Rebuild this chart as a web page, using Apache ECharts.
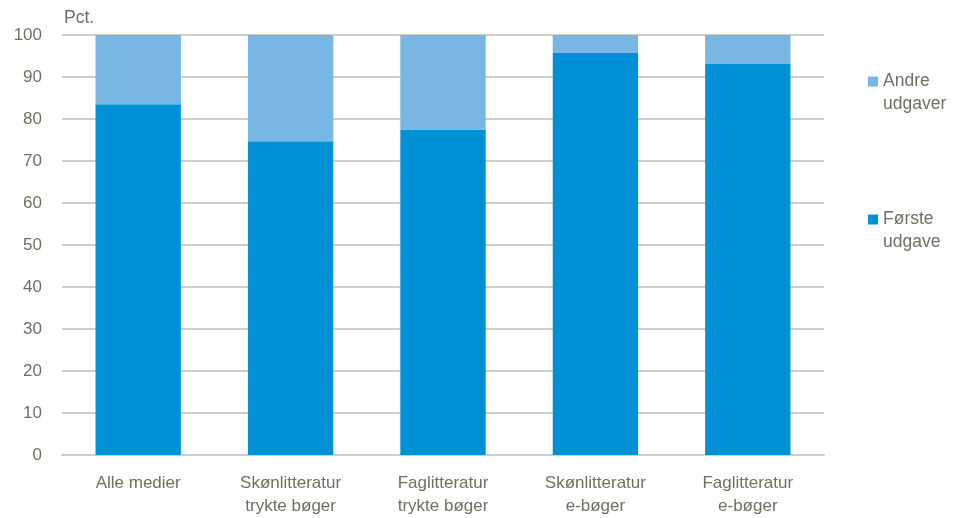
<!DOCTYPE html>
<html>
<head>
<meta charset="utf-8">
<script src="https://cdn.jsdelivr.net/npm/echarts@6/dist/echarts.min.js"></script>
<style>
html,body{margin:0;padding:0;background:#fff;}
#c{width:953px;height:518px;}
</style>
</head>
<body>
<div id="c"></div>
<script>
const categories = ['Alle medier', 'Skønlitteratur\ntrykte bøger', 'Faglitteratur\ntrykte bøger', 'Skønlitteratur\ne-bøger', 'Faglitteratur\ne-bøger'];
const foersteUdgave = [83.5, 74.7, 77.5, 95.7, 93.1];
const andreUdgaver = [16.5, 25.3, 22.5, 4.3, 6.9];
const seriesNames = ['Første\nudgave', 'Andre\nudgaver'];
const yTicks = { min: 0, max: 100, interval: 10 };

const textColor = '#706f62';
const gridColor = '#cfcdc7';
const font = 'Liberation Sans, Arial, sans-serif';

const chart = echarts.init(document.getElementById('c'), null, { renderer: 'canvas' });
const legendText = { color: textColor, fontSize: 17.5, fontFamily: font, lineHeight: 23 };
const legendCommon = {
  orient: 'vertical', left: 863, itemWidth: 10, itemHeight: 10, icon: 'rect',
  textStyle: legendText, selectedMode: false,
  formatter: function (name) { return '\n' + name; }
};
chart.setOption({
  animation: false,
  textStyle: { fontFamily: font },
  grid: { left: 62, right: 129, top: 35, bottom: 61, containLabel: false },
  legend: [
    Object.assign({ data: [seriesNames[1]], top: 42 }, legendCommon),
    Object.assign({ data: [seriesNames[0]], top: 180 }, legendCommon)
  ],
  xAxis: {
    type: 'category',
    data: categories,
    axisLine: { show: true, lineStyle: { color: gridColor, width: 2 } },
    axisTick: { show: false },
    axisLabel: { color: textColor, fontSize: 17, lineHeight: 23, margin: 17, fontFamily: font }
  },
  yAxis: {
    type: 'value',
    min: yTicks.min, max: yTicks.max, interval: yTicks.interval,
    name: 'Pct.',
    nameLocation: 'end',
    nameGap: 8,
    nameTextStyle: { color: textColor, fontSize: 17.5, align: 'left', padding: [0, 0, 0, 2], fontFamily: font },
    axisLine: { show: false },
    axisTick: { show: false },
    axisLabel: { color: textColor, fontSize: 17, margin: 20, fontFamily: font },
    splitLine: { lineStyle: { color: gridColor, width: 2 } }
  },
  series: [
    { name: seriesNames[0], type: 'bar', stack: 'a', data: foersteUdgave, barWidth: '56%', itemStyle: { color: '#0090d6' } },
    { name: seriesNames[1], type: 'bar', stack: 'a', data: andreUdgaver, barWidth: '56%', itemStyle: { color: '#78b6e4' } }
  ]
});
</script>
</body>
</html>
